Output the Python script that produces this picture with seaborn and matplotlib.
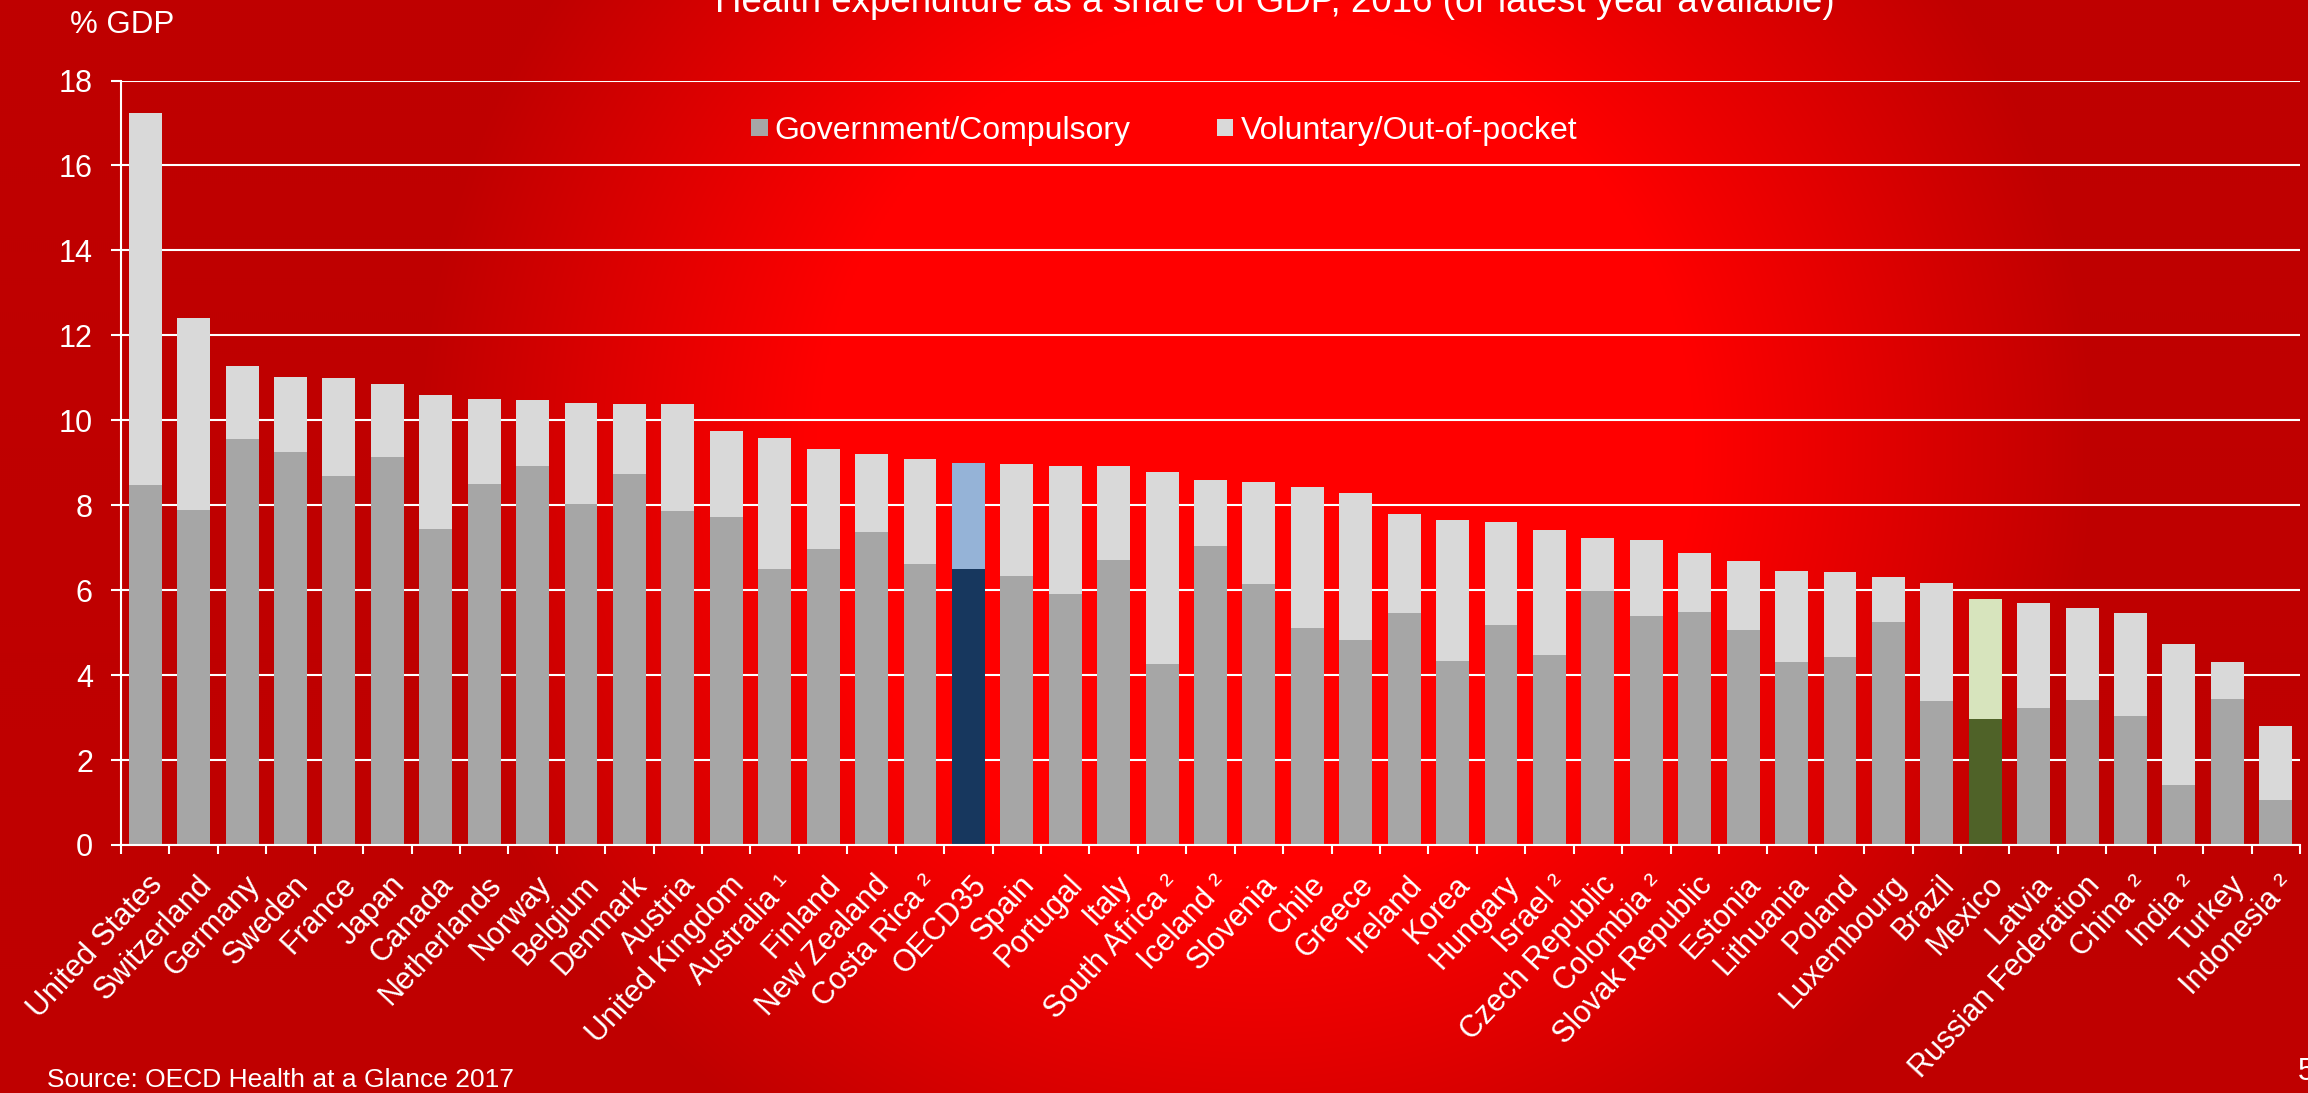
import numpy as np
import pandas as pd
import matplotlib
matplotlib.use("Agg")
import matplotlib.pyplot as plt
from matplotlib.patches import Patch
from matplotlib.transforms import ScaledTranslation
import seaborn as sns

# Health expenditure as % of GDP, 2016 (or latest year)
countries = [
    "United States", "Switzerland", "Germany", "Sweden", "France", "Japan",
    "Canada", "Netherlands", "Norway", "Belgium", "Denmark", "Austria",
    "United Kingdom", "Australia ¹", "Finland", "New Zealand", "Costa Rica ²",
    "OECD35", "Spain", "Portugal", "Italy", "South Africa ²", "Iceland ²",
    "Slovenia", "Chile", "Greece", "Ireland", "Korea", "Hungary", "Israel ²",
    "Czech Republic", "Colombia ²", "Slovak Republic", "Estonia", "Lithuania",
    "Poland", "Luxembourg", "Brazil", "Mexico", "Latvia", "Russian Federation",
    "China ²", "India ²", "Turkey", "Indonesia ²",
]
total = [
    17.24, 12.40, 11.28, 11.02, 10.99, 10.86, 10.59, 10.51, 10.47, 10.40,
    10.39, 10.38, 9.74, 9.58, 9.33, 9.20, 9.10, 8.99, 8.96, 8.93, 8.92, 8.78,
    8.59, 8.55, 8.44, 8.29, 7.80, 7.66, 7.61, 7.42, 7.24, 7.18, 6.87, 6.68,
    6.45, 6.43, 6.32, 6.16, 5.80, 5.69, 5.59, 5.46, 4.74, 4.30, 2.81,
]
government = [
    8.48, 7.89, 9.56, 9.26, 8.68, 9.14, 7.45, 8.50, 8.93, 8.04, 8.74, 7.87,
    7.72, 6.50, 6.98, 7.38, 6.61, 6.50, 6.33, 5.91, 6.70, 4.25, 7.05, 6.14,
    5.11, 4.82, 5.47, 4.33, 5.19, 4.47, 5.97, 5.40, 5.48, 5.07, 4.31, 4.43,
    5.25, 3.39, 2.97, 3.22, 3.42, 3.04, 1.41, 3.43, 1.05,
]
yticks = list(range(0, 19, 2))
series_labels = ["Government/Compulsory", "Voluntary/Out-of-pocket"]

df = pd.DataFrame({"country": countries, "total": total, "government": government})

GOV = "#A6A6A6"
VOL = "#D9D9D9"
highlight_gov = {"OECD35": "#17375E", "Mexico": "#4F6228"}
highlight_vol = {"OECD35": "#95B3D7", "Mexico": "#D7E4BD"}
gov_palette = {c: highlight_gov.get(c, GOV) for c in countries}
vol_palette = {c: highlight_vol.get(c, VOL) for c in countries}

sns.set_theme(style="white")
plt.rcParams["font.family"] = ["Liberation Sans", "DejaVu Sans"]

W, H, DPI = 2308, 1093, 100
fig = plt.figure(figsize=(W / DPI, H / DPI), dpi=DPI)

# radial red backdrop: bright centre fading to dark red at the edges
bg = fig.add_axes([0, 0, 1, 1], zorder=0)
yy, xx = np.mgrid[0:H:2, 0:W:2]
dist = np.hypot(xx - 1255.0, yy - 450.0)
t = np.clip((dist - 440.0) / 400.0, 0, 1)
img = np.zeros(yy.shape + (3,))
img[..., 0] = (255 - 64 * t) / 255.0
bg.imshow(img, extent=[0, W, H, 0], aspect="auto", interpolation="bilinear")
bg.axis("off")

ax = fig.add_axes([121 / W, 1 - 845 / H, (2300 - 121) / W, (845 - 80.5) / H], zorder=1)
ax.set_facecolor("none")

bar_kw = dict(legend=False, width=0.68, linewidth=0, saturation=1, ax=ax)
sns.barplot(data=df, x="country", y="total", hue="country", palette=vol_palette, **bar_kw)
sns.barplot(data=df, x="country", y="government", hue="country", palette=gov_palette, **bar_kw)

ax.set_xlabel("")
ax.set_ylabel("")
ax.set_ylim(0, 18)
ax.set_xlim(-0.5, len(countries) - 0.5)
ax.set_yticks(yticks)
ax.set_axisbelow(True)
ax.yaxis.grid(True, color="white", linewidth=1.5)
ax.xaxis.grid(False)

for side in ("top", "right"):
    ax.spines[side].set_visible(False)
for side in ("left", "bottom"):
    ax.spines[side].set_color("white")
    ax.spines[side].set_linewidth(1.5)

ax.tick_params(axis="y", direction="out", length=7.2, width=1.5, color="white",
               labelcolor="white", labelsize=22, pad=13, left=True)

# category boundaries carry the tick marks, labels sit at the centres
ax.set_xticks(np.arange(-0.5, len(countries), 1), minor=True)
ax.tick_params(axis="x", which="minor", direction="out", length=6.5, width=1.5,
               color="white", bottom=True)
ax.set_xticks(range(len(countries)))
ax.set_xticklabels(countries, rotation=47, ha="right", va="top",
                   rotation_mode="anchor", fontsize=22)
ax.tick_params(axis="x", which="major", length=0, pad=18,
               labelcolor="white", labelsize=22)
shift = ScaledTranslation(2 / DPI, 0, fig.dpi_scale_trans)
for lab in ax.get_xticklabels():
    lab.set_transform(lab.get_transform() + shift)

handles = [
    Patch(facecolor=GOV, edgecolor="none", label=series_labels[0]),
    Patch(facecolor=VOL, edgecolor="none", label=series_labels[1]),
]
fig.legend(handles=handles, loc="center", bbox_to_anchor=(1164 / W, 1 - 131 / H),
           ncol=2, frameon=False, fontsize=23, handlelength=0.52,
           handleheight=0.47, handletextpad=0.22, columnspacing=2.7,
           labelcolor="white")

fig.text(1275 / W, 1 - 12 / H,
         "Health expenditure as a share of GDP, 2016 (or latest year available)",
         ha="center", va="baseline", color="white", fontsize=26.5)
fig.text(70 / W, 1 - 33 / H, "% GDP", ha="left", va="baseline",
         color="white", fontsize=22.5)
fig.text(47 / W, 1 - 1087 / H, "Source: OECD Health at a Glance 2017",
         ha="left", va="baseline", color="white", fontsize=19)
fig.text(2298 / W, 1 - 1080 / H, "5", ha="left", va="baseline",
         color="white", fontsize=22)

fig.savefig("out.png", dpi=DPI)
